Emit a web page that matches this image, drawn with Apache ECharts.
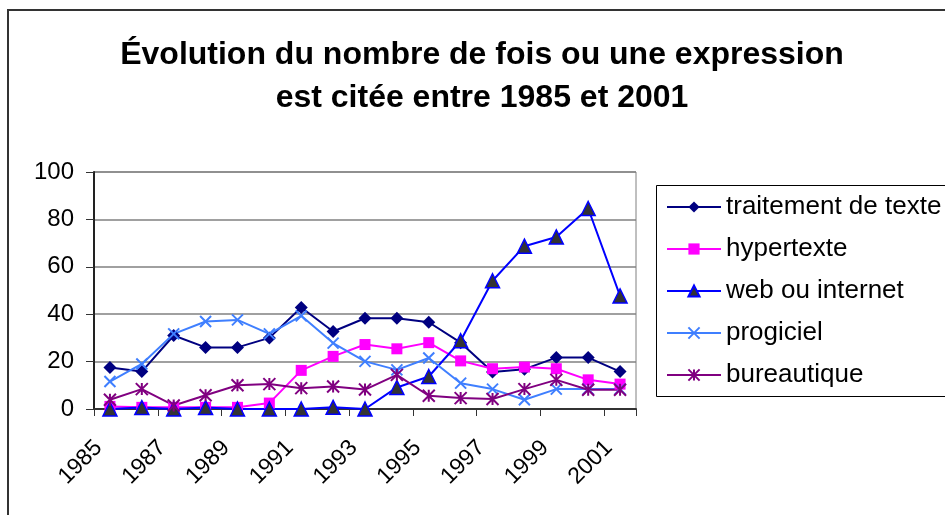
<!DOCTYPE html>
<html><head><meta charset="utf-8">
<script src="https://cdn.jsdelivr.net/npm/echarts@6/dist/echarts.min.js"></script>
<style>html,body{margin:0;padding:0;background:#fff}#c{width:945px;height:515px}</style>
</head><body><div id="c"></div>
<script>
const years = ['1985','1986','1987','1988','1989','1990','1991','1992','1993','1994','1995','1996','1997','1998','1999','2000','2001'];
const yTicks = [0, 20, 40, 60, 80, 100];
const traitement = [17.5, 15.8, 31, 26, 26, 30, 42.8, 32.7, 38.3, 38.3, 36.6, 28, 15.6, 16.8, 21.7, 21.7, 15.8];
const hypertexte = [1.1, 0.7, 0.7, 0.7, 0.7, 2.5, 16.3, 22.2, 27.2, 25.4, 28, 20.3, 17, 17.7, 17, 12.3, 10.5];
const web = [0, 0.6, 0, 0.6, 0, 0, 0, 0.7, 0, 9.1, 13.7, 28.8, 54.1, 68.7, 72.6, 84.6, 47.7];
const progiciel = [11.6, 19, 31.7, 36.9, 37.6, 31.7, 39.3, 27.8, 20.1, 16.5, 21.5, 10.9, 8.4, 3.9, 8.4, 8.4, 8.4];
const bureautique = [3.9, 8.4, 1.5, 5.8, 10, 10.5, 8.8, 9.5, 8.2, 14.4, 5.6, 4.6, 4.2, 8.4, 12.3, 8.1, 8.1];
const names = ['traitement de texte', 'hypertexte', 'web ou internet', 'progiciel', 'bureautique'];

const FONT = 'Liberation Sans, Arial, sans-serif';
const X_PATH = 'path://M0,0 L10,10 M10,0 L0,10';
const STAR_PATH = 'path://M5,0 L5,10 M0,0 L10,10 M10,0 L0,10';

function mk(name, data, color, symbol, size, fill, border) {
  return {
    name: name, type: 'line', data: data,
    symbol: symbol, symbolSize: size,
    lineStyle: { color: color, width: 2 },
    itemStyle: { color: fill || color, borderColor: border || color, borderWidth: (border ? 1.5 : (symbol.indexOf('path') === 0 ? 2 : 0)) },
    emphasis: { disabled: true },
    animation: false
  };
}

const chart = echarts.init(document.getElementById('c'));
chart.setOption({
  animation: false,
  backgroundColor: '#fff',
  title: {
    text: 'Évolution du nombre de fois ou une expression\nest citée entre 1985 et 2001',
    left: 477, top: 29, textAlign: 'center',
    textStyle: { fontFamily: FONT, fontSize: 32, fontWeight: 'bold', color: '#000', lineHeight: 43 }
  },
  graphic: [
    { type: 'rect', shape: { x: 8, y: 10, width: 1000, height: 600 }, style: { fill: 'none', stroke: '#333', lineWidth: 2 }, z: -10 },
    { type: 'rect', shape: { x: 656.5, y: 185.5, width: 400, height: 211 }, style: { fill: '#fff', stroke: '#000', lineWidth: 1 }, z: 0 }
  ],
  legend: {
    orient: 'vertical', left: 661, top: 189,
    itemWidth: 54, itemHeight: 14, itemGap: 16,
    textStyle: { fontFamily: FONT, fontSize: 26, color: '#000', lineHeight: 26 },
    data: names, z: 10
  },
  grid: { left: 94, top: 172, right: 309, bottom: 106, show: true, borderColor: '#808080', borderWidth: 1, backgroundColor: 'transparent' },
  xAxis: {
    type: 'category', data: years, boundaryGap: true,
    axisLine: { lineStyle: { color: '#333', width: 2 } },
    axisTick: { show: true, length: 7, inside: false, lineStyle: { color: '#333' } },
    axisLabel: { interval: 1, rotate: 45, margin: 24, padding: [0, 16, 0, 0], fontFamily: FONT, fontSize: 23, color: '#000' }
  },
  yAxis: {
    type: 'value', min: yTicks[0], max: yTicks[yTicks.length - 1], interval: 20,
    axisLine: { show: true, lineStyle: { color: '#222', width: 2 } },
    axisTick: { show: true, length: 8, lineStyle: { color: '#333' } },
    axisLabel: { margin: 20, fontFamily: FONT, fontSize: 24, color: '#000' },
    splitLine: { lineStyle: { color: '#808080', width: 1.5 } }
  },
  series: [
    mk(names[0], traitement, '#000080', 'diamond', 13),
    mk(names[1], hypertexte, '#ff00ff', 'rect', 11),
    mk(names[2], web, '#0000ff', 'triangle', 14, '#333333', '#0000ff'),
    mk(names[3], progiciel, '#3f7fff', X_PATH, 11),
    mk(names[4], bureautique, '#800080', STAR_PATH, 12)
  ]
});
</script></body></html>
